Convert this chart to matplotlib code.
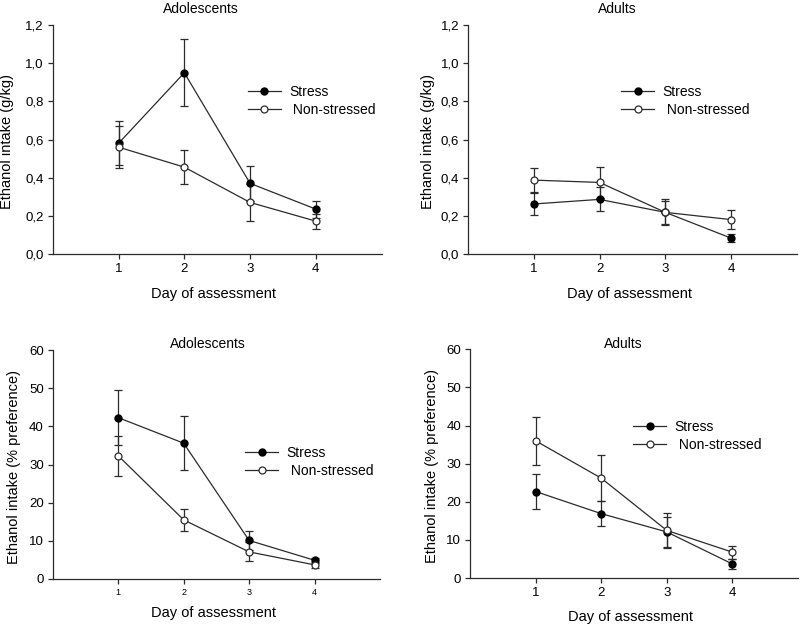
"""Ethanol intake across days of assessment: stressed vs non-stressed,
adolescents vs adults, in g/kg and % preference."""

import matplotlib

matplotlib.use("Agg")
import matplotlib.pyplot as plt
from matplotlib.lines import Line2D
from matplotlib.ticker import FuncFormatter

plt.rcParams["font.family"] = ["Liberation Sans", "DejaVu Sans"]

DAYS = [1, 2, 3, 4]

# --- g/kg, adolescents --------------------------------------------------------
ADO_GKG_STRESS = [0.58, 0.95, 0.37, 0.235]
ADO_GKG_STRESS_ERR = [0.115, 0.175, 0.09, 0.045]
ADO_GKG_NON = [0.56, 0.455, 0.27, 0.172]
ADO_GKG_NON_ERR = [0.11, 0.09, 0.095, 0.04]

# --- g/kg, adults -------------------------------------------------------------
ADU_GKG_STRESS = [0.262, 0.286, 0.218, 0.083]
ADU_GKG_STRESS_ERR = [0.058, 0.063, 0.06, 0.02]
ADU_GKG_NON = [0.387, 0.375, 0.218, 0.18]
ADU_GKG_NON_ERR = [0.062, 0.082, 0.068, 0.05]

# --- % preference, adolescents ------------------------------------------------
ADO_PCT_STRESS = [42.3, 35.6, 10.1, 4.9]
ADO_PCT_STRESS_ERR = [7.3, 7.1, 2.4, 0.7]
ADO_PCT_NON = [32.3, 15.5, 7.1, 3.7]
ADO_PCT_NON_ERR = [5.3, 2.9, 2.5, 0.8]

# --- % preference, adults -----------------------------------------------------
ADU_PCT_STRESS = [22.7, 16.9, 12.1, 3.7]
ADU_PCT_STRESS_ERR = [4.7, 3.3, 3.9, 1.3]
ADU_PCT_NON = [36.0, 26.2, 12.5, 6.8]
ADU_PCT_NON_ERR = [6.3, 6.0, 4.6, 1.7]

LINE_COLOR = "#2b2b2b"
MS = 5.0

PANELS = [
    dict(rect=[0.066, 0.595, 0.411, 0.365], title="Adolescents", title_xy=(0.45, 1.072),
         ylabel="Ethanol intake (g/kg)", ylim=(0, 1.2), yticks=[0, 0.2, 0.4, 0.6, 0.8, 1.0, 1.2],
         fmt="{:.1f}", data=(ADO_GKG_STRESS, ADO_GKG_STRESS_ERR, ADO_GKG_NON, ADO_GKG_NON_ERR),
         leg=(0.593, 0.74), xl=(0.49, -0.175), yl=(-0.14, 0.49), small=False),
    dict(rect=[0.585, 0.595, 0.411, 0.365], title="Adults", title_xy=(0.453, 1.072),
         ylabel="Ethanol intake (g/kg)", ylim=(0, 1.2), yticks=[0, 0.2, 0.4, 0.6, 0.8, 1.0, 1.2],
         fmt="{:.1f}", data=(ADU_GKG_STRESS, ADU_GKG_STRESS_ERR, ADU_GKG_NON, ADU_GKG_NON_ERR),
         leg=(0.465, 0.74), xl=(0.49, -0.175), yl=(-0.122, 0.49), small=False),
    dict(rect=[0.066, 0.0766, 0.409, 0.365], title="Adolescents", title_xy=(0.474, 1.026),
         ylabel="Ethanol intake (% preference)", ylim=(0, 60), yticks=[0, 10, 20, 30, 40, 50, 60],
         fmt="{:.0f}", data=(ADO_PCT_STRESS, ADO_PCT_STRESS_ERR, ADO_PCT_NON, ADO_PCT_NON_ERR),
         leg=(0.587, 0.583), xl=(0.49, -0.148), yl=(-0.119, 0.49), small=True),
    dict(rect=[0.5875, 0.078, 0.41, 0.365], title="Adults", title_xy=(0.466, 1.022),
         ylabel="Ethanol intake (% preference)", ylim=(0, 60), yticks=[0, 10, 20, 30, 40, 50, 60],
         fmt="{:.0f}", data=(ADU_PCT_STRESS, ADU_PCT_STRESS_ERR, ADU_PCT_NON, ADU_PCT_NON_ERR),
         leg=(0.497, 0.692), xl=(0.49, -0.17), yl=(-0.116, 0.49), small=False),
]


def draw_panel(fig, p):
    ax = fig.add_axes(p["rect"])
    stress, stress_err, non, non_err = p["data"]

    style = dict(color=LINE_COLOR, lw=0.9, marker="o", ms=MS, capsize=3.2,
                 elinewidth=0.9, capthick=0.9, zorder=3)
    ax.errorbar(DAYS, stress, yerr=stress_err, mfc="black", mec="black", **style)
    ax.errorbar(DAYS, non, yerr=non_err, mfc="white", mec=LINE_COLOR, mew=0.9, **style)

    ax.set_xlim(0, 5)
    ax.set_ylim(*p["ylim"])
    ax.set_xticks(DAYS)
    ax.set_yticks(p["yticks"])
    fmt = p["fmt"]
    ax.yaxis.set_major_formatter(FuncFormatter(lambda v, _: fmt.format(v).replace(".", ",")))

    for side in ("top", "right"):
        ax.spines[side].set_visible(False)
    for side in ("left", "bottom"):
        ax.spines[side].set_color(LINE_COLOR)
        ax.spines[side].set_linewidth(0.9)
    ax.tick_params(direction="out", length=3.5, width=0.9, color=LINE_COLOR,
                   labelsize=9.5, pad=3)
    if p["small"]:
        ax.tick_params(axis="x", labelsize=6.5)

    ax.text(*p["title_xy"], p["title"], transform=ax.transAxes,
            ha="center", va="center", fontsize=10)
    ax.set_xlabel("Day of assessment", fontsize=10.5)
    ax.xaxis.set_label_coords(*p["xl"])
    ax.xaxis.label.set_va("center")
    ax.set_ylabel(p["ylabel"], fontsize=10.5)
    ax.yaxis.set_label_coords(*p["yl"])
    ax.yaxis.label.set_va("center")

    handles = [
        Line2D([], [], color=LINE_COLOR, lw=0.9, marker="o", ms=MS,
               mfc="black", mec="black"),
        Line2D([], [], color=LINE_COLOR, lw=0.9, marker="o", ms=MS,
               mfc="white", mec=LINE_COLOR, mew=0.9),
    ]
    ax.legend(handles, ["Stress", " Non-stressed"], loc="upper left",
              bbox_to_anchor=p["leg"], frameon=False, fontsize=10, borderpad=0,
              borderaxespad=0, handlelength=2.4, handletextpad=0.6,
              labelspacing=0.3)


def main():
    fig = plt.figure(figsize=(8, 6.27), dpi=100)
    for p in PANELS:
        draw_panel(fig, p)
    fig.savefig("out.png", dpi=100)


if __name__ == "__main__":
    main()
